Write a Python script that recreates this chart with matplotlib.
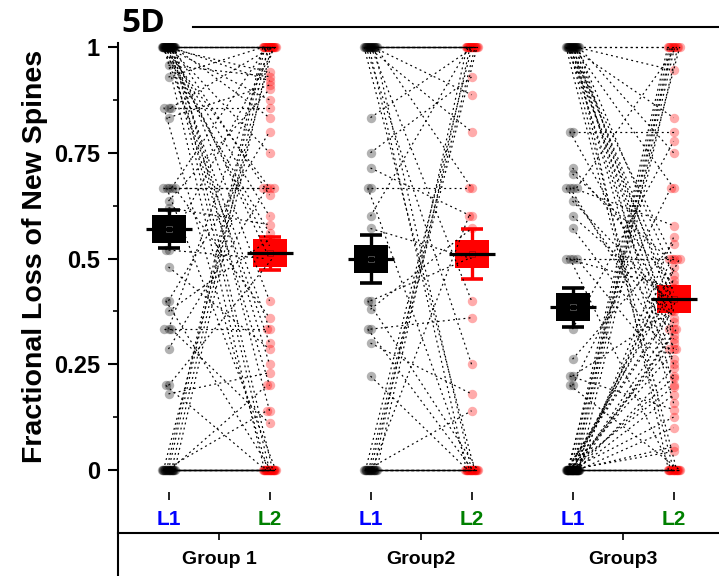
import numpy as np
import matplotlib
matplotlib.use("Agg")
import matplotlib.pyplot as plt
from matplotlib.lines import Line2D

plt.rcParams['font.family'] = ['Liberation Sans', 'DejaVu Sans']
plt.rcParams['font.weight'] = 'bold'

# ---------------------------------------------------------------- data
groups = ['Group 1', 'Group2', 'Group3']
timepoints = ['L1', 'L2']
timepoint_colors = ['#0000ff', '#008000']

# paired values (same index = same dendrite imaged at L1 and L2)
g1_l1 = [1, 1, 1, 1, 1, 1, 1, 1, 1, 1,
         1, 1, 1, 1, 1, 1, 1, 1, 1, 1,
         1, 1, 1, 1, 1, 1, 1, 1, 1,
         0.957, 0.929, 0.857, 0.857, 0.857, 0.833, 0.667, 0.667, 0.667, 0.667,
         0.667, 0.636, 0.62, 0.52, 0.52, 0.48, 0.4, 0.4, 0.375, 0.333,
         0.333, 0.333, 0.286, 0.2, 0.2, 0.18,
         0, 0, 0, 0, 0, 0, 0, 0, 0, 0,
         0, 0, 0, 0, 0, 0, 0, 0, 0, 0,
         0]
g1_l2 = [1, 1, 1, 1, 1, 1, 1, 1, 1, 0.94,
         0.92, 0.875, 0.833, 0.75, 0.667, 0.65, 0.6, 0.56, 0.5, 0.53,
         0.4, 0.333, 0.3, 0.25, 0.2, 0.14, 0, 0, 0,
         0.93, 1, 0.857, 0, 1, 0.91, 0.667, 0.667, 1, 0,
         0.36, 0.9, 0.58, 0.5, 1, 0.286, 0.8, 0, 0.545, 1,
         0.333, 0.11, 0.667, 0.5, 0, 0.23,
         1, 1, 1, 1, 1, 0.2, 0.14, 0, 0, 0,
         0, 0, 0, 0, 0, 0, 0, 0, 0, 0,
         0]

g2_l1 = [1, 1, 1, 1, 1, 1, 1, 1, 1, 1,
         1, 1, 1, 1, 1, 1, 1, 1,
         0.833, 0.75, 0.714, 0.667, 0.667, 0.6, 0.571, 0.4, 0.4, 0.38,
         0.333, 0.333, 0.3, 0.222,
         0, 0, 0, 0, 0, 0, 0, 0, 0, 0,
         0, 0, 0, 0, 0, 0, 0, 0]
g2_l2 = [1, 1, 1, 1, 1, 1, 1, 1, 1, 1,
         0.887, 0.8, 0.667, 0.4, 0.25, 0, 0, 0,
         1, 0.929, 0.6, 0.667, 0, 1, 0.5, 0.5, 0, 0.571,
         0.36, 0, 0.18, 0,
         1, 1, 1, 1, 1, 0.6, 0.14, 0, 0, 0,
         0, 0, 0, 0, 0, 0, 0, 0]

g3_l1 = [1, 1, 1, 1, 1, 1, 1, 1, 1, 1,
         1, 1, 1, 1, 1, 1, 1, 1, 1, 1,
         0.8, 0.8, 0.714, 0.7, 0.667, 0.667, 0.667, 0.667, 0.636, 0.6,
         0.571, 0.5, 0.5, 0.5, 0.5, 0.333, 0.262, 0.222, 0.222, 0.2,
         0.2,
         0, 0, 0, 0, 0, 0, 0, 0, 0, 0,
         0, 0, 0, 0, 0, 0, 0, 0, 0, 0,
         0, 0, 0, 0, 0, 0, 0, 0, 0, 0,
         0, 0, 0, 0, 0, 0, 0, 0, 0]
g3_l2 = [1, 1, 0.945, 0.833, 0.75, 0.667, 0.5, 0.46, 0.42, 0.4,
         0.375, 0.333, 0.31, 0.286, 0.25, 0.2, 0.158, 0, 0, 0,
         0.8, 0.36, 0.44, 0.5, 0.578, 0.333, 1, 0.286, 0.4, 0.39,
         0.263, 0.5, 0.43, 0.222, 0, 0.777, 0.535, 0.375, 0.143, 0.667,
         0,
         1, 1, 1, 1, 1, 1, 1, 0.5, 0.45, 0.38,
         0.35, 0.3, 0.55, 0.48, 0.42, 0.32, 0.5, 0.4, 0.333, 0.286,
         0.242, 0.218, 0.197, 0.178, 0.125, 0.1, 0.055, 0.044, 0, 0,
         0, 0, 0, 0, 0, 0, 0, 0, 0]

# summary statistics drawn as box + error bar
mean_l1 = [0.570, 0.499, 0.385]
mean_l2 = [0.513, 0.511, 0.404]
sem_l1 = [0.045, 0.056, 0.046]
sem_l2 = [0.039, 0.059, 0.028]

pairs = [(g1_l1, g1_l2), (g2_l1, g2_l2), (g3_l1, g3_l2)]
means = list(zip(mean_l1, mean_l2))
sems = list(zip(sem_l1, sem_l2))

# ---------------------------------------------------------------- figure
W, H = 719, 576
fig = plt.figure(figsize=(W / 100, H / 100), dpi=100)
ax = fig.add_axes([118 / W, 0, 601 / W, 533 / H])
ax.set_xlim(-0.5, 5.45)
ax.set_ylim(-0.2506, 1.0095)

GOLDEN = 0.6180339887


def jitter(vals):
    """Spread tied values sideways with a low-discrepancy sequence."""
    vals = np.asarray(vals, dtype=float)
    off = np.zeros(len(vals))
    for v in np.unique(vals):
        idx = np.where(np.isclose(vals, v))[0]
        m = len(idx)
        if m > 1:
            spread = 0.13 if m > 4 else 0.05 * (m - 1) + 0.02
            off[idx] = spread * (((np.arange(m) * GOLDEN) + 0.5) % 1 - 0.5)
    return off


box_marker = [(-1.22, -1), (1.22, -1), (1.22, 1), (-1.22, 1), (-1.22, -1)]
point_colors = ['#000000', '#ff0000']
inner_edge = ['#555555', '#b00000']

for gi, (a, b) in enumerate(pairs):
    x0, x1 = 2 * gi, 2 * gi + 1
    xa = x0 + jitter(a)
    xb = x1 + jitter(b)
    # individual points
    ax.scatter(xa, a, s=46, color='black', alpha=0.3, lw=0, zorder=2)
    ax.scatter(xb, b, s=46, color='red', alpha=0.33, lw=0, zorder=2)
    # summary boxes
    for k, xc in enumerate((x0, x1)):
        c = point_colors[k]
        m = means[gi][k]
        e = sems[gi][k]
        ax.errorbar(xc, m, yerr=e, fmt='none', ecolor=c, elinewidth=2.4,
                    capsize=8, capthick=2.6, zorder=3)
        ax.plot(xc, m, marker=box_marker, ms=24, color=c, mec=c, mew=0,
                zorder=3.5)
        ax.plot(xc, m, marker='s', ms=5, mfc='none', mec=inner_edge[k],
                mew=0.6, zorder=3.6)
    # paired lines
    for xi, yi, xj, yj in zip(xa, a, xb, b):
        ax.plot([xi, xj], [yi, yj], color='black', lw=0.85,
                ls=(0, (1.6, 2.8)), zorder=4)
    for k, xc in enumerate((x0, x1)):
        ax.plot(xc, means[gi][k], marker='_', ms=33, mew=2.3,
                color='black', zorder=5)

# ---------------------------------------------------------------- axes
for s in ('top', 'right', 'bottom'):
    ax.spines[s].set_visible(False)
ax.spines['left'].set_linewidth(1.5)
ax.set_xticks([])
ax.set_yticks([0, 0.25, 0.5, 0.75, 1])
ax.set_yticklabels(['0', '0.25', '0.5', '0.75', '1'])
ax.set_yticks(np.arange(0.125, 1, 0.25), minor=True)
ax.tick_params(axis='y', which='major', direction='out', length=7, width=1.5,
               labelsize=17, pad=6)
ax.tick_params(axis='y', which='minor', direction='out', length=3.5, width=1.2)
ax.set_ylabel('Fractional Loss of New Spines', fontsize=20.5, fontweight='bold')
ax.yaxis.set_label_coords(-0.117, 0.600)

# timepoint ticks
tp = ax.secondary_xaxis(80 / 533)
tp.set_alignment('bottom')
tp.spines['bottom'].set_visible(False)
tp.spines['top'].set_visible(False)
tp.set_xticks([0, 1, 2, 3, 4, 5], timepoints * 3)
tp.tick_params(direction='inout', length=6, width=1.2, labelsize=15, pad=7)
for i, lab in enumerate(tp.get_xticklabels()):
    lab.set_color(timepoint_colors[i % 2])
    lab.set_fontweight('bold')

# group axis
ga = ax.secondary_xaxis(43 / 533)
ga.set_alignment('bottom')
ga.spines['top'].set_visible(False)
ga.spines['bottom'].set_linewidth(1.5)
ga.set_xticks([0.5, 2.5, 4.5], groups)
ga.tick_params(direction='out', length=5, width=1.2, labelsize=14, pad=8)
for lab in ga.get_xticklabels():
    lab.set_fontweight('bold')

# panel letter and header rule
fig.text(121 / W, 1 - 32 / H, '5D', fontsize=24, fontweight='bold',
         family=['Open Sans', 'DejaVu Sans'], va='baseline', ha='left')
fig.add_artist(Line2D([193 / W, 1], [1 - 26.5 / H] * 2, color='black', lw=1.5,
                      transform=fig.transFigure))

fig.savefig('out.png', dpi=100)
